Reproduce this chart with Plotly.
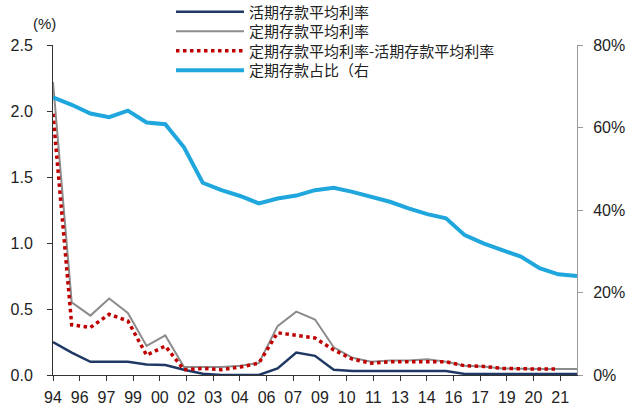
import plotly.graph_objects as go

# data (1994 - 2022, annual)
tick_labels = ["94", "96", "97", "99", "00", "02", "03", "04", "06", "07",
               "09", "10", "11", "13", "14", "16", "17", "19", "20", "21"]

demand_rate = [0.25, 0.17, 0.10, 0.10, 0.10, 0.08, 0.075, 0.04, 0.01, 0.0,
               0.0, 0.0, 0.05, 0.17, 0.145, 0.04, 0.03, 0.03, 0.03, 0.03,
               0.03, 0.03, 0.008, 0.008, 0.008, 0.008, 0.008, 0.008, 0.008]

time_rate = [2.22, 0.55, 0.45, 0.58, 0.47, 0.22, 0.30, 0.06, 0.06, 0.06,
             0.07, 0.09, 0.37, 0.48, 0.42, 0.21, 0.13, 0.10, 0.11, 0.11,
             0.12, 0.10, 0.07, 0.065, 0.05, 0.045, 0.045, 0.045, 0.045]

spread = [1.98, 0.38, 0.36, 0.46, 0.41, 0.15, 0.22, 0.04, 0.05, 0.04,
          0.06, 0.09, 0.32, 0.30, 0.28, 0.19, 0.12, 0.09, 0.10, 0.10,
          0.10, 0.10, 0.07, 0.065, 0.05, 0.045, 0.045, 0.045, None]

time_share = [0.673, 0.655, 0.634, 0.625, 0.641, 0.612, 0.608, 0.552, 0.466, 0.448,
              0.434, 0.416, 0.428, 0.435, 0.448, 0.454, 0.444, 0.431, 0.420, 0.404,
              0.390, 0.380, 0.339, 0.319, 0.303, 0.287, 0.259, 0.244, 0.240]

names = ["活期存款平均利率", "定期存款平均利率", "定期存款平均利率-活期存款平均利率", "定期存款占比（右"]

x = list(range(len(time_share)))
n_ticks = len(tick_labels)
tick_step = 27.1 / (n_ticks - 1)
tickvals = [i * tick_step for i in range(n_ticks)]

fig = go.Figure()
fig.add_trace(go.Scatter(x=x, y=demand_rate, name=names[0], mode="lines",
                         legend="legend",
                         line=dict(color="#1F3864", width=2.5)))
fig.add_trace(go.Scatter(x=x, y=time_rate, name=names[1], mode="lines",
                         legend="legend2",
                         line=dict(color="#8C8C8C", width=2)))
fig.add_trace(go.Scatter(x=x, y=spread, name=names[2], mode="lines",
                         legend="legend3",
                         line=dict(color="#C00000", width=3.5, dash="dot")))
fig.add_trace(go.Scatter(x=x, y=time_share, name=names[3], mode="lines",
                         yaxis="y2", legend="legend4",
                         line=dict(color="#1FA7DD", width=4)))

axis_font = dict(family="Liberation Sans, Arial", size=16, color="#222222")


def legend_row(center_px):
    return dict(xref="container", yref="container", x=171 / 633,
                y=1 - center_px / 408, xanchor="left", yanchor="middle",
                bgcolor="rgba(255,255,255,0)",
                font=dict(family="Noto Sans CJK SC", size=15, color="#222222"),
                itemwidth=68)


fig.update_layout(
    width=633, height=408,
    margin=dict(l=53, r=56, t=45, b=33, autoexpand=False),
    paper_bgcolor="white", plot_bgcolor="white",
    showlegend=True,
    legend=legend_row(12),
    legend2=legend_row(31.5),
    legend3=legend_row(51),
    legend4=legend_row(70.5),
    xaxis=dict(range=[0, 28], tickmode="array", tickvals=tickvals,
               ticktext=tick_labels, ticks="outside", ticklen=5,
               tickcolor="#333333", showline=True, linecolor="#333333",
               linewidth=1, showgrid=False, zeroline=False,
               tickfont=axis_font, automargin=False, ticklabelstandoff=3),
    yaxis=dict(range=[0, 2.5], dtick=0.5, tickformat=".1f",
               ticks="outside", ticklen=5, tickcolor="#333333",
               showline=True, linecolor="#333333", linewidth=1,
               showgrid=False, zeroline=False, tickfont=axis_font,
               automargin=False, ticklabelstandoff=11),
    yaxis2=dict(range=[0, 0.8], dtick=0.2, tickformat=".0%",
                overlaying="y", side="right", ticks="outside", ticklen=5,
                tickcolor="#999999", showline=True, linecolor="#999999",
                linewidth=1, showgrid=False, zeroline=False,
                tickfont=axis_font, automargin=False, ticklabelstandoff=7),
    annotations=[dict(text="(%)", xref="paper", yref="paper", x=-9 / 524, y=1.0,
                      xanchor="center", yanchor="middle", yshift=22,
                      showarrow=False,
                      font=dict(family="Liberation Sans, Arial", size=15,
                                color="#222222"))],
)

fig.write_html("out.html", config={"displayModeBar": False},
               post_script="document.body.style.margin='0';")
